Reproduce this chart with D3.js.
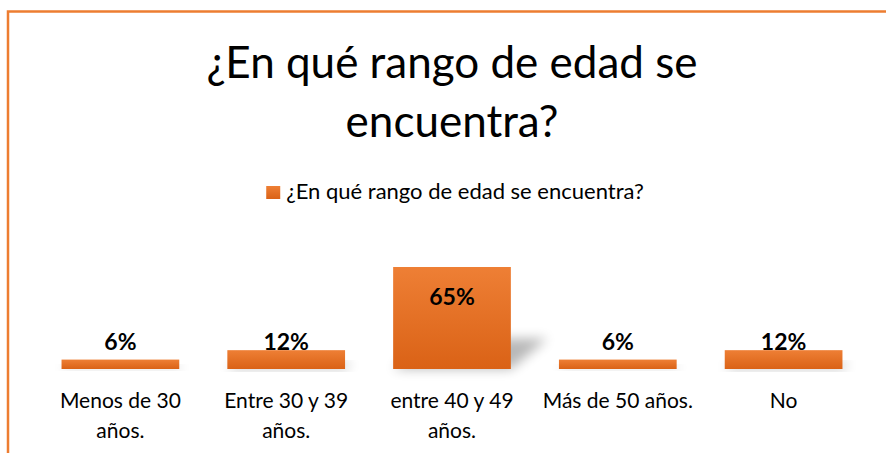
<!DOCTYPE html>
<html>
<head>
<meta charset="utf-8">
<script src="https://cdn.jsdelivr.net/npm/d3@7"></script>
<style>
  body { margin: 0; background: #fff; }
  svg { display: block; font-family: Lato, 'Open Sans', sans-serif; }
</style>
</head>
<body>
<div id="chart"></div>
<script>
// data
const categories = ['Menos de 30 años.', 'Entre 30 y 39 años.', 'entre 40 y 49 años.', 'Más de 50 años.', 'No']
const values = [0.06, 0.12, 0.65, 0.06, 0.12]
const titleLines = ['¿En qué rango de edad se', 'encuentra?']
const seriesName = '¿En qué rango de edad se encuentra?'

const width = 886
const height = 453
const centerX = 452

const svg = d3
  .select('#chart')
  .append('svg')
  .attr('width', width)
  .attr('height', height)

const defs = svg.append('defs')
const grad = defs
  .append('linearGradient')
  .attr('id', 'barGrad')
  .attr('x1', 0).attr('y1', 0).attr('x2', 0).attr('y2', 1)
grad.append('stop').attr('offset', '0%').attr('stop-color', '#ee7f35')
grad.append('stop').attr('offset', '100%').attr('stop-color', '#da6216')

defs
  .append('filter')
  .attr('id', 'blur')
  .attr('x', '-50%').attr('y', '-50%').attr('width', '200%').attr('height', '200%')
  .append('feGaussianBlur')
  .attr('stdDeviation', 6)

// outer frame
svg
  .append('rect')
  .attr('x', 8)
  .attr('y', 11.5)
  .attr('width', 900)
  .attr('height', 500)
  .attr('fill', 'none')
  .attr('stroke', '#ed7d31')
  .attr('stroke-width', 2.5)

/// Scales////////////////////////////////
const xScale = d3
  .scaleBand()
  .domain(categories)
  .range([37.5, 866.5])
  .paddingInner(0.29)
  .paddingOuter(0.145)

const yScale = d3.scaleLinear().domain([0, 0.65]).range([369, 267])
const pct = d3.format('.0%')

/// title////////////////////////////////
svg
  .append('g')
  .selectAll('text')
  .data(titleLines)
  .enter()
  .append('text')
  .attr('x', centerX)
  .attr('y', (d, i) => 78 + i * 59)
  .attr('text-anchor', 'middle')
  .attr('font-size', 44)
  .attr('fill', '#000')
  .text(d => d)

/// legend////////////////////////////////
const legend = svg.append('g').attr('class', 'legend')
const legendText = legend
  .append('text')
  .attr('y', 199)
  .attr('font-size', 22)
  .attr('fill', '#000')
  .text(seriesName)
const lw = legendText.node().getComputedTextLength()
const lx = centerX + 3 - (lw + 20) / 2
legend
  .append('rect')
  .attr('x', lx)
  .attr('y', 186)
  .attr('width', 14)
  .attr('height', 13)
  .attr('fill', 'url(#barGrad)')
legendText.attr('x', lx + 20)

/// shadows////////////////////////////////
svg
  .append('g')
  .selectAll('path')
  .data(values)
  .enter()
  .append('path')
  .attr('d', (d, i) => {
    const x0 = xScale(categories[i])
    const bw = xScale.bandwidth()
    const base = yScale(0)
    const h = (base - yScale(d)) * 0.3
    return `M${x0},${base} L${x0 + bw},${base} L${x0 + bw + h * 1.2},${base - h} L${x0 + h * 1.2},${base - h} Z`
  })
  .attr('fill', '#000')
  .attr('opacity', 0.28)
  .attr('filter', 'url(#blur)')

/// bars////////////////////////////////
svg
  .append('g')
  .selectAll('rect')
  .data(values)
  .enter()
  .append('rect')
  .attr('x', (d, i) => xScale(categories[i]))
  .attr('y', d => yScale(d))
  .attr('width', xScale.bandwidth())
  .attr('height', d => yScale(0) - yScale(d))
  .attr('fill', 'url(#barGrad)')

/// value labels////////////////////////////////
svg
  .append('g')
  .selectAll('text')
  .data(values)
  .enter()
  .append('text')
  .attr('x', (d, i) => xScale(categories[i]) + xScale.bandwidth() / 2)
  .attr('y', d => (yScale(0) - yScale(d) > 40 ? yScale(d) + 38 : yScale(0) - 19))
  .attr('text-anchor', 'middle')
  .attr('font-size', 23)
  .attr('font-weight', 'bold')
  .attr('fill', '#000')
  .text(d => pct(d))

/// category labels////////////////////////////////
const catG = svg.append('g')
categories.forEach((c, i) => {
  const cx = xScale(c) + xScale.bandwidth() / 2
  const t = catG
    .append('text')
    .attr('x', cx)
    .attr('y', 408)
    .attr('text-anchor', 'middle')
    .attr('font-size', 21)
    .attr('fill', '#000')
  const words = c.split(' ')
  const maxW = xScale.step()
  let line = []
  let tspan = t.append('tspan').attr('x', cx).attr('dy', 0)
  words.forEach(w => {
    line.push(w)
    tspan.text(line.join(' '))
    if (tspan.node().getComputedTextLength() > maxW && line.length > 1) {
      line.pop()
      tspan.text(line.join(' '))
      line = [w]
      tspan = t.append('tspan').attr('x', cx).attr('dy', 30).text(w)
    }
  })
})
</script>
</body>
</html>
